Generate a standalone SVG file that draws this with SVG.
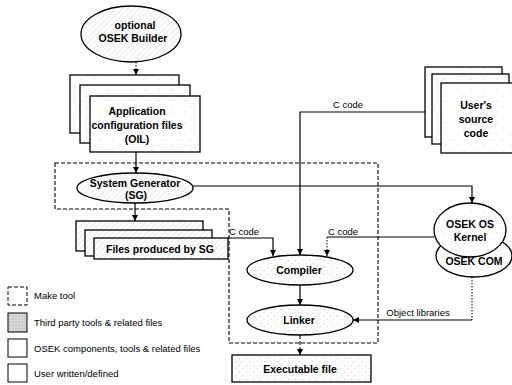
<svg xmlns="http://www.w3.org/2000/svg" width="512" height="385" viewBox="0 0 512 385">
  <defs>
    <pattern id="hatch" width="4" height="4" patternUnits="userSpaceOnUse" patternTransform="rotate(45)">
      <rect width="4" height="4" fill="#ffffff"/>
      <line x1="0" y1="0" x2="0" y2="4" stroke="#c2c2c2" stroke-width="0.7"/>
    </pattern>
    <pattern id="stipple" width="7" height="7" patternUnits="userSpaceOnUse">
      <rect width="7" height="7" fill="#ffffff"/>
      <circle cx="1.5" cy="1.5" r="0.5" fill="#b4b4b4"/>
      <circle cx="5" cy="4.5" r="0.5" fill="#c4c4c4"/>
      <circle cx="2.5" cy="5.8" r="0.4" fill="#d0d0d0"/>
    </pattern>
    <pattern id="sparse" width="13" height="11" patternUnits="userSpaceOnUse">
      <rect width="13" height="11" fill="#ffffff"/>
      <circle cx="3" cy="2" r="0.5" fill="#b4b4b4"/>
      <circle cx="9" cy="8" r="0.5" fill="#c4c4c4"/>
    </pattern>
    <pattern id="grey" width="3" height="3" patternUnits="userSpaceOnUse">
      <rect width="3" height="3" fill="#d8d8d8"/>
      <circle cx="1" cy="1" r="0.6" fill="#999999"/>
    </pattern>
    <marker id="arr" viewBox="0 0 10 10" refX="10" refY="5" markerWidth="6" markerHeight="6" orient="auto" markerUnits="userSpaceOnUse">
      <path d="M0,0 L10,5 L0,10 Z" fill="#000"/>
    </marker>
    <style>
      .box { stroke: #000; stroke-width: 1.3; }
      .ell { stroke: #000; stroke-width: 1.3; }
      .lbl { font-family: "Liberation Sans", Arial, sans-serif; font-weight: bold; font-size: 10.5px; fill: #000; text-anchor: middle; }
      .sm { font-family: "Liberation Sans", Arial, sans-serif; font-size: 9.5px; fill: #000; }
      .edge { fill: none; stroke: #000; stroke-width: 1.2; }
      .dot { fill: none; stroke: #000; stroke-width: 1; stroke-dasharray: 1.5 1.5; }
      .dash { fill: none; stroke: #000; stroke-width: 1.1; stroke-dasharray: 4 2; }
    </style>
  </defs>

  <!-- make tool boundary -->
  <path class="dash" d="M55,163 H378 V343 H229 V209 H55 Z"/>

  <g id="builder">
    <ellipse class="ell" cx="131" cy="34" rx="50" ry="28" fill="url(#hatch)"/>
    <text class="lbl" x="135" y="29">optional</text>
    <text class="lbl" x="133" y="42">OSEK Builder</text>
  </g>

  <g id="oil-files">
    <rect class="box" x="70" y="75" width="109" height="58" fill="url(#sparse)"/>
    <rect class="box" x="80" y="85" width="110" height="58" fill="url(#sparse)"/>
    <rect class="box" x="90" y="96" width="110" height="56" fill="url(#sparse)"/>
    <text class="lbl" x="137" y="115">Application</text>
    <text class="lbl" x="137" y="129">configuration files</text>
    <text class="lbl" x="137" y="143">(OIL)</text>
  </g>

  <g id="user-source">
    <rect class="box" x="425" y="67" width="77" height="70" fill="url(#sparse)"/>
    <rect class="box" x="432" y="74" width="77" height="70" fill="url(#sparse)"/>
    <rect class="box" x="441" y="83" width="76" height="70" fill="url(#sparse)"/>
    <text class="lbl" x="476" y="109">User's</text>
    <text class="lbl" x="476" y="123">source</text>
    <text class="lbl" x="476" y="137">code</text>
  </g>

  <g id="system-generator">
    <ellipse class="ell" cx="135" cy="188" rx="58" ry="15" fill="url(#hatch)"/>
    <text class="lbl" x="135" y="187">System Generator</text>
    <text class="lbl" x="136" y="199">(SG)</text>
  </g>

  <g id="sg-files">
    <rect class="box" x="76" y="221" width="127" height="30" fill="url(#hatch)"/>
    <rect class="box" x="85" y="230" width="127" height="26" fill="url(#hatch)"/>
    <rect class="box" x="94" y="238" width="134" height="21" fill="url(#hatch)"/>
    <text class="lbl" x="160" y="253">Files produced by SG</text>
  </g>

  <g id="osek-com">
    <ellipse class="ell" cx="474" cy="256" rx="38" ry="21" fill="url(#sparse)"/>
  </g>

  <g id="osek-kernel">
    <ellipse class="ell" cx="470" cy="230" rx="36" ry="27" fill="url(#sparse)"/>
    <text class="lbl" x="470" y="228">OSEK OS</text>
    <text class="lbl" x="470" y="241">Kernel</text>
    <text class="lbl" x="474" y="265">OSEK COM</text>
  </g>

  <g id="compiler">
    <ellipse class="ell" cx="300" cy="270" rx="53" ry="15" fill="url(#stipple)"/>
    <text class="lbl" x="299" y="274">Compiler</text>
  </g>

  <g id="linker">
    <ellipse class="ell" cx="300" cy="320" rx="53" ry="15" fill="url(#stipple)"/>
    <text class="lbl" x="299" y="324">Linker</text>
  </g>

  <g id="executable">
    <rect class="box" x="232" y="355" width="139" height="27" fill="url(#stipple)"/>
    <text class="lbl" x="300" y="373">Executable file</text>
  </g>

  <g id="connectors">
    <path class="dot" d="M136,62 V75" marker-end="url(#arr)"/>
    <path class="edge" d="M136,152 V173" marker-end="url(#arr)"/>
    <path class="edge" d="M135,203 V221" marker-end="url(#arr)"/>
    <path class="edge" d="M193,186 H472 V203" marker-end="url(#arr)"/>
    <path class="edge" d="M425,112 H300 V255" marker-end="url(#arr)"/>
    <path class="edge" d="M228,238 H273 V256" marker-end="url(#arr)"/>
    <path class="edge" d="M434,237 H327"/>
    <path class="dot" d="M327,237 V256" marker-end="url(#arr)"/>
    <path class="edge" d="M300,285 V305" marker-end="url(#arr)"/>
    <path class="dot" d="M472,277 V320"/>
    <path class="edge" d="M472,320 H353" marker-end="url(#arr)"/>
    <path class="dash" d="M300,335 V355" marker-end="url(#arr)"/>
    <text class="sm" x="348" y="108" text-anchor="middle">C code</text>
    <text class="sm" x="244" y="235" text-anchor="middle">C code</text>
    <text class="sm" x="343" y="235" text-anchor="middle">C code</text>
    <text class="sm" x="418" y="316" text-anchor="middle">Object libraries</text>
  </g>

  <g id="legend">
    <rect x="8" y="287" width="19" height="18" fill="#fff" stroke="#000" stroke-width="1" stroke-dasharray="4 2"/>
    <text class="sm" x="34" y="299">Make tool</text>
    <rect x="8" y="313" width="19" height="19" fill="url(#grey)" stroke="#000" stroke-width="1"/>
    <text class="sm" x="34" y="326">Third party tools &amp; related files</text>
    <rect x="8" y="339" width="19" height="18" fill="url(#sparse)" stroke="#000" stroke-width="1"/>
    <text class="sm" x="34" y="352">OSEK components, tools &amp; related files</text>
    <rect x="8" y="364" width="19" height="18" fill="#fff" stroke="#000" stroke-width="1"/>
    <text class="sm" x="34" y="377">User written/defined</text>
  </g>
</svg>
